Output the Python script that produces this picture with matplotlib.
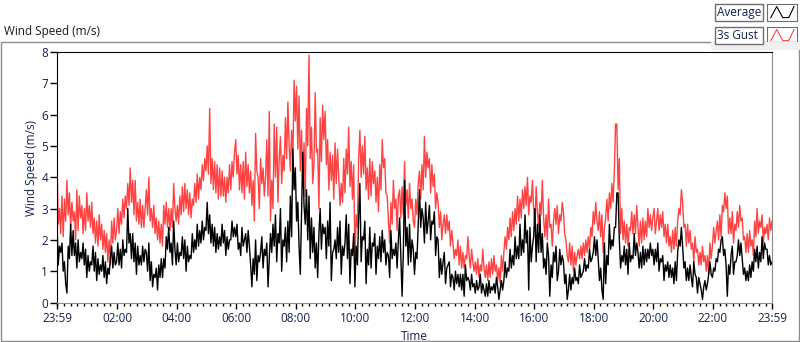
import numpy as np
import matplotlib
matplotlib.use("Agg")
import matplotlib.pyplot as plt
from matplotlib.patches import Rectangle
from matplotlib.lines import Line2D
from matplotlib.ticker import FixedLocator

plt.rcParams["font.family"] = ["Open Sans", "DejaVu Sans"]

# sampling: one value every 2.5 minutes, starting 23:59, for 24 hours
step_min = 2.5

# 3s gust (m/s), one row per hour from the start
gust = [
    4.6, 2.5, 3.0, 2.2, 3.4, 2.1, 3.3, 2.6, 3.9, 2.8, 3.5, 2.4, 3.2, 2.6, 2.9, 2.0, 3.6, 2.3, 3.4, 2.7, 3.1, 2.2, 3.0, 2.3,
    3.5, 2.6, 3.1, 2.4, 3.2, 2.2, 2.7, 1.9, 2.6, 1.8, 2.8, 2.0, 2.5, 1.7, 2.3, 1.6, 2.2, 1.3, 2.0, 1.2, 2.6, 1.9, 2.7, 2.0,
    2.3, 3.0, 2.2, 2.9, 2.5, 3.3, 2.7, 3.4, 3.0, 3.8, 3.1, 4.3, 3.2, 3.9, 2.8, 3.9, 2.6, 3.2, 2.5, 3.3, 2.4, 3.1, 2.4, 3.0,
    3.6, 2.8, 4.0, 2.6, 3.0, 2.4, 3.1, 2.2, 2.7, 2.0, 2.6, 1.9, 2.5, 1.8, 3.1, 2.5, 3.2, 2.4, 3.0, 2.3, 3.0, 2.4, 3.8, 3.0,
    2.6, 3.1, 2.5, 3.4, 2.8, 3.7, 2.9, 3.8, 3.0, 3.6, 2.8, 3.5, 2.7, 3.3, 3.1, 3.8, 3.2, 4.1, 3.3, 4.0, 3.6, 4.4, 3.9, 4.6,
    4.2, 5.0, 4.1, 6.2, 3.8, 4.6, 3.6, 4.5, 3.5, 4.4, 3.3, 4.3, 3.4, 4.2, 3.4, 4.0, 3.2, 4.0, 3.5, 4.4, 3.6, 4.5, 4.0, 4.8,
    5.2, 4.1, 4.7, 3.6, 4.4, 3.5, 4.5, 3.3, 4.8, 3.7, 4.4, 3.5, 4.2, 3.1, 3.9, 2.6, 5.4, 4.2, 4.0, 3.0, 4.6, 3.8, 4.3, 3.4,
    4.0, 5.2, 3.4, 6.1, 2.6, 3.9, 3.0, 5.7, 4.0, 5.6, 3.2, 4.6, 5.3, 3.8, 4.7, 4.2, 5.9, 4.6, 6.4, 5.0, 4.2, 5.5, 4.5, 7.1,
    5.8, 6.9, 4.9, 6.6, 4.2, 5.5, 3.7, 5.1, 3.4, 6.2, 5.0, 7.9, 4.6, 5.6, 3.8, 4.4, 6.7, 4.8, 4.9, 3.0, 5.9, 4.5, 6.3, 5.2,
    6.1, 4.4, 5.2, 3.6, 4.8, 3.9, 4.7, 3.3, 5.1, 3.8, 4.9, 4.0, 3.1, 3.8, 3.2, 4.6, 3.5, 4.9, 4.1, 5.6, 3.7, 4.5, 3.3, 4.4,
    1.4, 2.8, 2.4, 4.6, 5.5, 4.0, 5.0, 4.1, 5.3, 3.6, 4.3, 3.3, 4.6, 3.4, 4.5, 3.8, 4.2, 3.2, 4.0, 2.9, 4.4, 3.6, 5.2, 4.3,
    4.6, 3.5, 3.4, 2.6, 1.9, 3.2, 2.5, 3.9, 3.0, 3.3, 2.3, 3.4, 3.6, 2.7, 3.7, 2.8, 4.5, 3.1, 3.6, 2.7, 3.8, 3.0, 3.3, 2.6,
    2.4, 3.3, 2.8, 3.8, 4.2, 3.3, 4.4, 3.6, 5.3, 4.0, 4.8, 4.3, 4.6, 3.5, 4.4, 3.7, 4.1, 3.0, 3.5, 3.2, 2.4, 2.9, 2.0, 2.5,
    2.8, 2.2, 2.8, 2.3, 2.6, 1.8, 2.3, 1.9, 1.4, 1.7, 1.5, 2.0, 1.2, 1.8, 1.1, 1.6, 1.1, 1.5, 1.4, 2.1, 1.5, 1.1, 1.7, 1.3,
    1.0, 1.3, 0.9, 1.4, 0.8, 1.2, 1.0, 1.7, 1.1, 0.8, 1.2, 0.7, 1.3, 0.8, 1.4, 0.9, 1.5, 1.0, 1.2, 0.7, 1.1, 0.6, 1.5, 1.0,
    1.6, 2.1, 1.7, 2.4, 2.0, 2.7, 2.1, 2.9, 2.3, 3.0, 2.5, 3.4, 2.6, 3.3, 2.7, 3.6, 3.0, 3.7, 3.1, 4.0, 2.8, 3.4, 3.2, 3.9,
    3.0, 2.4, 3.7, 2.9, 2.4, 3.2, 2.8, 3.9, 2.7, 2.1, 2.8, 2.0, 3.3, 2.4, 2.5, 1.8, 2.6, 3.0, 2.5, 3.1, 2.2, 2.8, 2.6, 3.2,
    2.9, 2.2, 2.0, 1.5, 1.3, 1.9, 1.2, 1.8, 1.0, 1.6, 1.2, 1.5, 1.7, 1.4, 1.8, 1.4, 1.9, 1.5, 2.0, 1.6, 2.1, 1.7, 2.4, 2.1,
    2.9, 2.5, 3.2, 2.6, 2.3, 2.9, 2.1, 2.8, 1.6, 2.4, 2.7, 3.3, 2.6, 3.5, 3.0, 3.8, 3.2, 4.2, 5.7, 5.7, 3.6, 4.6, 2.2, 3.0,
    2.0, 2.6, 1.9, 2.5, 1.8, 2.4, 2.3, 2.9, 2.2, 2.8, 2.2, 3.1, 2.4, 1.8, 2.6, 1.9, 2.7, 2.0, 2.6, 2.1, 3.0, 2.4, 2.8, 2.3,
    2.7, 3.0, 2.2, 2.6, 3.0, 2.3, 2.8, 2.4, 2.9, 2.1, 2.5, 1.9, 2.5, 1.8, 2.1, 1.6, 2.3, 1.7, 2.4, 1.8, 2.6, 3.0, 2.8, 3.6,
    3.2, 2.4, 2.5, 1.8, 2.5, 1.9, 2.3, 1.7, 1.9, 1.3, 2.1, 1.6, 1.7, 1.2, 1.6, 1.2, 1.8, 1.3, 1.5, 1.0, 1.5, 0.9, 1.9, 1.4,
    1.8, 2.4, 1.9, 2.3, 2.6, 2.0, 2.8, 2.1, 3.1, 2.9, 3.5, 3.0, 3.4, 2.2, 2.7, 2.2, 2.9, 1.9, 2.5, 2.3, 2.9, 2.4, 3.1, 2.6,
    2.7, 2.0, 2.1, 1.6, 2.2, 1.6, 2.3, 1.8, 2.0, 1.5, 2.6, 2.1, 3.0, 2.2, 2.6, 2.4, 2.8, 1.9, 2.4, 2.2, 2.5, 2.0, 2.7, 2.3,
    2.6,
]

# average wind speed (m/s)
average = [
    2.6, 1.2, 1.8, 1.6, 1.9, 1.0, 1.3, 0.6, 0.3, 1.8, 1.4, 2.5, 1.5, 2.3, 1.5, 1.9, 1.1, 2.0, 1.3, 1.6, 1.4, 1.9, 1.2, 1.7,
    0.8, 1.5, 1.0, 1.3, 1.2, 1.8, 1.0, 1.6, 0.7, 1.4, 0.9, 1.2, 1.0, 1.5, 0.8, 1.3, 0.6, 1.1, 0.9, 1.4, 1.8, 1.1, 1.6, 1.2,
    1.3, 1.9, 1.2, 1.7, 1.1, 2.0, 1.5, 1.7, 1.6, 3.0, 1.9, 2.2, 1.4, 2.2, 1.3, 1.9, 0.9, 1.8, 1.2, 1.5, 1.2, 1.8, 1.3, 1.7,
    1.6, 1.0, 1.9, 0.7, 1.3, 0.5, 0.9, 0.8, 1.1, 0.4, 1.2, 0.8, 1.4, 0.8, 1.4, 1.1, 2.1, 1.7, 2.4, 1.6, 1.9, 1.2, 2.6, 1.7,
    1.2, 1.9, 1.3, 1.6, 1.5, 2.1, 1.4, 2.0, 1.0, 1.8, 1.3, 1.5, 1.4, 2.2, 1.6, 2.0, 1.7, 2.5, 1.8, 2.3, 1.9, 2.6, 2.0, 2.4,
    2.3, 3.2, 2.2, 2.8, 1.9, 2.5, 1.8, 2.4, 1.6, 2.2, 1.7, 2.1, 1.8, 2.5, 1.9, 2.3, 1.5, 2.1, 1.7, 2.0, 2.0, 2.6, 2.1, 2.4,
    2.1, 2.5, 1.7, 1.9, 1.5, 2.4, 1.8, 2.0, 2.2, 1.6, 2.3, 1.8, 1.2, 0.5, 1.4, 0.9, 2.0, 0.7, 1.5, 1.3, 1.6, 2.1, 1.1, 1.7,
    1.5, 1.9, 0.5, 1.4, 2.2, 1.6, 2.5, 1.8, 2.8, 1.3, 2.2, 1.9, 3.0, 1.0, 2.0, 1.8, 2.4, 1.3, 2.6, 1.6, 3.4, 2.1, 4.9, 3.6,
    4.3, 2.6, 3.2, 1.8, 0.9, 2.9, 4.8, 3.1, 2.5, 3.6, 2.0, 3.4, 1.4, 2.7, 1.6, 2.4, 1.1, 1.9, 0.8, 2.2, 3.0, 1.7, 2.5, 2.2,
    2.4, 1.4, 2.6, 1.8, 3.2, 0.7, 1.6, 1.7, 2.0, 1.4, 2.4, 1.6, 2.6, 0.9, 1.8, 1.5, 1.9, 2.8, 1.4, 2.5, 0.6, 1.7, 1.5, 2.2,
    0.5, 1.8, 1.2, 2.7, 3.8, 1.3, 2.1, 2.0, 2.6, 0.6, 1.7, 1.2, 2.4, 1.1, 1.9, 1.8, 2.2, 0.9, 1.8, 1.4, 2.1, 1.3, 2.3, 1.6,
    2.0, 1.2, 1.6, 1.5, 0.8, 2.3, 1.4, 1.7, 1.5, 1.9, 1.1, 2.0, 2.7, 1.4, 0.2, 1.6, 3.9, 1.8, 2.4, 1.2, 2.5, 1.3, 2.0, 1.7,
    0.9, 1.6, 1.4, 2.5, 3.6, 2.4, 3.0, 2.7, 1.9, 3.2, 2.2, 2.6, 3.1, 2.0, 2.6, 2.5, 2.9, 1.5, 2.1, 2.0, 0.8, 1.4, 0.9, 1.3,
    1.6, 0.6, 1.1, 1.2, 1.3, 0.5, 0.9, 0.8, 0.4, 1.0, 0.6, 0.9, 0.5, 0.9, 0.4, 0.9, 0.2, 1.2, 0.7, 0.8, 0.7, 0.4, 0.9, 0.5,
    0.6, 0.3, 0.7, 0.4, 0.5, 0.9, 0.3, 0.6, 0.4, 0.2, 0.6, 0.2, 0.7, 0.3, 0.5, 0.4, 0.6, 0.3, 0.8, 0.5, 0.1, 0.4, 0.7, 0.4,
    0.7, 1.3, 0.8, 1.1, 1.0, 1.7, 1.1, 1.5, 1.2, 2.1, 1.4, 1.8, 1.4, 2.5, 1.5, 2.0, 1.6, 2.8, 1.9, 2.3, 0.4, 2.4, 1.3, 1.8,
    2.1, 3.0, 1.3, 2.5, 1.6, 2.8, 1.6, 2.2, 1.1, 1.4, 0.9, 1.9, 1.5, 0.2, 1.2, 0.8, 1.6, 1.3, 1.8, 0.7, 1.0, 1.7, 1.2, 1.5,
    1.3, 0.6, 0.9, 0.1, 0.4, 0.9, 0.4, 0.8, 0.6, 1.1, 0.7, 0.8, 0.6, 1.2, 0.8, 0.9, 1.0, 1.4, 1.0, 1.2, 1.1, 1.7, 1.3, 1.4,
    1.6, 2.1, 1.5, 2.0, 1.4, 0.7, 1.1, 0.4, 0.1, 1.9, 0.6, 1.5, 1.2, 2.5, 1.7, 2.0, 1.8, 2.4, 2.4, 3.5, 3.5, 2.0, 1.1, 1.5,
    1.3, 1.8, 1.2, 1.7, 0.9, 1.9, 1.3, 1.5, 1.4, 2.2, 1.5, 1.9, 1.6, 1.1, 1.6, 1.1, 1.8, 1.2, 1.7, 1.3, 1.7, 1.4, 1.9, 1.5,
    1.7, 1.2, 1.7, 1.3, 1.9, 1.0, 1.4, 1.3, 1.5, 0.7, 1.2, 1.0, 1.3, 0.8, 1.2, 0.8, 1.1, 0.6, 1.3, 0.7, 1.6, 2.0, 1.8, 2.4,
    1.8, 1.1, 1.3, 0.7, 1.1, 0.7, 1.2, 0.8, 0.5, 1.3, 0.9, 0.8, 0.3, 0.8, 0.6, 0.4, 0.1, 0.5, 0.7, 0.4, 0.6, 0.9, 1.3, 0.9,
    0.8, 1.1, 1.0, 1.4, 1.3, 1.7, 1.6, 2.0, 2.1, 1.5, 1.7, 1.2, 0.2, 1.2, 0.9, 1.5, 1.8, 0.9, 1.3, 1.3, 1.5, 2.0, 1.5, 1.9,
    1.4, 0.9, 1.1, 0.7, 1.0, 0.7, 1.2, 0.8, 1.3, 1.0, 1.7, 1.3, 1.8, 1.1, 1.6, 1.3, 2.1, 1.4, 1.9, 1.7, 1.7, 1.2, 1.5, 1.2,
    1.3,
]

tick_labels = ["23:59", "02:00", "04:00", "06:00", "08:00", "10:00", "12:00",
               "14:00", "16:00", "18:00", "20:00", "22:00", "23:59"]
# minutes after 23:59 for each tick label
tick_minutes = [0, 121, 241, 361, 481, 601, 721, 841, 961, 1081, 1201, 1321, 1440]

W, H = 800, 342
text_col = "#14204e"
red = "#ff4242"

fig = plt.figure(figsize=(W / 100, H / 100), dpi=100)

# outer panel frame
fig.add_artist(Rectangle((0.5 / W, 1 - 341 / H), 798.5 / W, 299 / H,
                         transform=fig.transFigure, fill=False,
                         edgecolor="#8c8c8c", linewidth=1))
fig.add_artist(Rectangle((711 / W, 1 - 50 / H), 89 / W, 8 / H,
                         transform=fig.transFigure, facecolor="#f0f0f0",
                         edgecolor="none"))
fig.text(4 / W, 1 - 32 / H, "Wind Speed (m/s)", fontsize=8.5, color="#1a1a1a",
         ha="left", va="center")

ax = fig.add_axes([57 / W, 1 - 302.5 / H, 715 / W, 250.5 / H])
ax.plot(np.arange(len(gust)) * step_min, gust, color=red, linewidth=1)
ax.plot(np.arange(len(average)) * step_min, average, color="black", linewidth=1)

ax.set_xlim(0, 1440)
ax.set_ylim(0, 8)
ax.set_yticks(range(0, 9))
ax.xaxis.set_major_locator(FixedLocator(tick_minutes))
ax.set_xticklabels(tick_labels)
ax.xaxis.set_minor_locator(FixedLocator(
    [m for m in np.arange(121 - 120, 1441, 120 / 9) if m >= 0]))

ax.tick_params(axis="y", which="major", direction="out", length=5, width=1,
               pad=1.5, labelsize=8.5, labelcolor=text_col, color="black")
ax.tick_params(axis="x", which="major", direction="out", length=4, width=1,
               pad=3, labelsize=8.5, labelcolor=text_col, color="black")
ax.tick_params(axis="x", which="minor", direction="out", length=2, width=1,
               color="black")

for side in ["left", "top"]:
    ax.spines[side].set_color("black")
for side in ["bottom", "right"]:
    ax.spines[side].set_color("#8c8c8c")

ax.set_ylabel("Wind Speed (m/s)", fontsize=8.5, color=text_col)
ax.yaxis.set_label_coords(-19 / 715, 0.535)
ax.set_xlabel("Time", fontsize=8.5, color=text_col)
ax.xaxis.set_label_coords(0.5, -27 / 250.5)

# legend boxes, top right
for row, (name, col) in enumerate([("Average", "black"), ("3s Gust", red)]):
    top = 4 + row * 23
    fig.add_artist(Rectangle((715 / W, 1 - (top + 17) / H), 48 / W, 17 / H,
                             transform=fig.transFigure, facecolor="white",
                             edgecolor="#6e6e6e", linewidth=1))
    fig.text(717 / W, 1 - (top + 8.5) / H, name, fontsize=8.5, color=text_col,
             ha="left", va="center")
    sax = fig.add_axes([767 / W, 1 - (top + 17) / H, 30 / W, 17 / H])
    sax.set_xlim(0, 4)
    sax.set_ylim(0, 1)
    sax.add_line(Line2D([0.5, 1.3, 2.1, 2.9, 3.6], [0.2, 0.85, 0.2, 0.2, 0.85],
                        color=col, linewidth=0.8))
    sax.set_xticks([])
    sax.set_yticks([])
    for s in sax.spines.values():
        s.set_color("#6e6e6e")

fig.savefig("out.png", dpi=100)
